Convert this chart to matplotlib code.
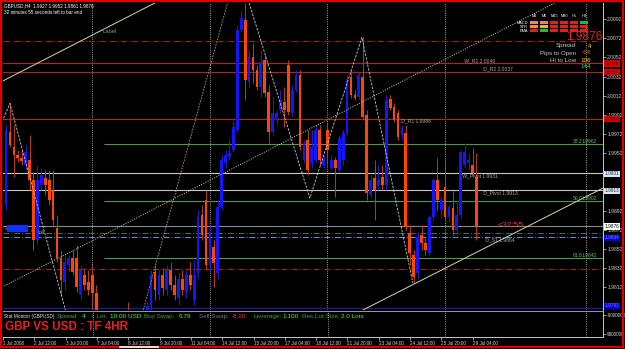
import matplotlib
matplotlib.use("Agg")
import matplotlib.pyplot as plt
from matplotlib.patches import Rectangle
import matplotlib.transforms as mtransforms

plt.rcParams["font.family"] = ["Liberation Sans", "DejaVu Sans"]

# GBPUSD H4 candles, bar 1 = 1 Jul 2008 04:00
OPEN = [1.9906, 1.9898, 1.9974, 1.9958, 1.9950, 1.9947, 1.9940, 1.9945, 1.9924, 1.9861,
        1.9919, 1.9926, 1.9924, 1.9913, 1.9874, 1.9842, 1.9817, 1.9835, 1.9842, 1.9842,
        1.9804, 1.9825, 1.9817, 1.9825, 1.9806, 1.9786, 1.9770, 1.9775, 1.9760, 1.9772,
        1.9758, 1.9752, 1.9775, 1.9765, 1.9778, 1.9762, 1.9780, 1.9784, 1.9792, 1.9828,
        1.9804, 1.9825, 1.9809, 1.9830, 1.9814, 1.9801, 1.9821, 1.9807, 1.9825, 1.9799,
        1.9827, 1.9887, 1.9903, 1.9835, 1.9854, 1.9827, 1.9896, 1.9942, 1.9948, 1.9955,
        1.9976, 2.0081, 2.0091, 2.0026, 2.0052, 2.0039, 2.0021, 2.0049, 2.0016, 1.9974,
        1.9987, 1.9997, 2.0005, 2.0044, 1.9994, 2.0018, 2.0034, 1.9945, 1.9966, 1.9942,
        1.9945, 1.9976, 1.9940, 1.9976, 1.9936, 1.9945, 1.9934, 1.9945, 1.9973, 2.0032,
        2.0013, 2.0011, 2.0032, 1.9992, 1.9908, 1.9926, 1.9919, 1.9927, 1.9919, 2.0009,
        2.0000, 1.9994, 1.9971, 1.9973, 1.9869, 1.9846, 1.9827, 1.9866, 1.9858, 1.9848,
        1.9885, 1.9924, 1.9893, 1.9917, 1.9885, 1.9895, 1.9872, 1.9887, 1.9940, 1.9942,
        1.9940, 1.9927]
HIGH = [1.9913, 1.9981, 2.0004, 1.9981, 1.9955, 1.9955, 1.9960, 1.9971, 1.9932, 1.9940,
        1.9936, 1.9934, 1.9934, 1.9934, 1.9887, 1.9851, 1.9846, 1.9846, 1.9851, 1.9856,
        1.9835, 1.9832, 1.9830, 1.9835, 1.9814, 1.9787, 1.9780, 1.9782, 1.9778, 1.9779,
        1.9770, 1.9780, 1.9796, 1.9782, 1.9784, 1.9783, 1.9786, 1.9797, 1.9830, 1.9835,
        1.9830, 1.9832, 1.9835, 1.9838, 1.9825, 1.9828, 1.9830, 1.9830, 1.9838, 1.9840,
        1.9893, 1.9898, 1.9913, 1.9877, 1.9861, 1.9903, 1.9950, 1.9955, 1.9966, 1.9987,
        2.0086, 2.0102, 2.0109, 2.0060, 2.0067, 2.0044, 2.0060, 2.0055, 2.0023, 2.0011,
        1.9997, 2.0018, 2.0021, 2.0049, 2.0023, 2.0039, 2.0039, 1.9966, 1.9976, 1.9976,
        1.9981, 1.9981, 1.9950, 1.9985, 1.9950, 1.9948, 1.9971, 1.9976, 2.0034, 2.0039,
        2.0018, 2.0037, 2.0073, 1.9997, 1.9929, 1.9945, 1.9940, 1.9940, 2.0013, 2.0013,
        2.0004, 1.9997, 1.9981, 1.9981, 1.9877, 1.9851, 1.9870, 1.9877, 1.9863, 1.9887,
        1.9926, 1.9947, 1.9906, 1.9947, 1.9898, 1.9913, 1.9903, 1.9955, 1.9963, 1.9952,
        1.9957, 1.9952]
LOW = [1.9890, 1.9893, 1.9958, 1.9927, 1.9943, 1.9940, 1.9934, 1.9913, 1.9851, 1.9856,
       1.9913, 1.9908, 1.9898, 1.9877, 1.9838, 1.9804, 1.9809, 1.9828, 1.9825, 1.9807,
       1.9799, 1.9809, 1.9804, 1.9788, 1.9778, 1.9760, 1.9750, 1.9755, 1.9748, 1.9752,
       1.9745, 1.9748, 1.9760, 1.9755, 1.9758, 1.9755, 1.9770, 1.9778, 1.9785, 1.9799,
       1.9799, 1.9804, 1.9804, 1.9809, 1.9799, 1.9793, 1.9804, 1.9801, 1.9809, 1.9793,
       1.9821, 1.9861, 1.9830, 1.9830, 1.9812, 1.9821, 1.9893, 1.9936, 1.9945, 1.9953,
       1.9974, 2.0079, 2.0008, 2.0020, 2.0025, 2.0018, 2.0011, 2.0011, 1.9963, 1.9971,
       1.9981, 1.9994, 1.9979, 1.9992, 1.9991, 2.0016, 1.9955, 1.9942, 1.9929, 1.9936,
       1.9942, 1.9940, 1.9936, 1.9940, 1.9934, 1.9906, 1.9932, 1.9940, 1.9971, 2.0010,
       2.0008, 2.0009, 1.9987, 1.9903, 1.9906, 1.9882, 1.9913, 1.9913, 1.9913, 1.9997,
       1.9985, 1.9966, 1.9966, 1.9872, 1.9835, 1.9816, 1.9821, 1.9851, 1.9846, 1.9846,
       1.9882, 1.9893, 1.9885, 1.9882, 1.9880, 1.9866, 1.9866, 1.9884, 1.9936, 1.9934,
       1.9929, 1.9861]
CLOSE = [1.9892, 1.9976, 1.9960, 1.9950, 1.9947, 1.9944, 1.9953, 1.9924, 1.9861, 1.9924,
         1.9929, 1.9919, 1.9903, 1.9882, 1.9842, 1.9819, 1.9838, 1.9842, 1.9828, 1.9812,
         1.9830, 1.9814, 1.9809, 1.9806, 1.9788, 1.9770, 1.9775, 1.9760, 1.9772, 1.9758,
         1.9752, 1.9775, 1.9765, 1.9778, 1.9762, 1.9780, 1.9784, 1.9792, 1.9825, 1.9809,
         1.9825, 1.9811, 1.9830, 1.9814, 1.9804, 1.9821, 1.9809, 1.9825, 1.9814, 1.9825,
         1.9885, 1.9866, 1.9835, 1.9870, 1.9837, 1.9896, 1.9945, 1.9950, 1.9952, 1.9979,
         2.0081, 2.0093, 2.0028, 2.0052, 2.0039, 2.0021, 2.0047, 2.0015, 1.9974, 1.9994,
         1.9994, 2.0008, 1.9997, 1.9995, 2.0018, 2.0034, 1.9958, 1.9963, 1.9934, 1.9958,
         1.9976, 1.9945, 1.9947, 1.9955, 1.9945, 1.9936, 1.9968, 1.9973, 2.0030, 2.0013,
         2.0010, 2.0034, 1.9990, 1.9910, 1.9924, 1.9913, 1.9924, 1.9919, 2.0008, 1.9999,
         1.9987, 1.9969, 1.9978, 1.9875, 1.9848, 1.9823, 1.9864, 1.9858, 1.9851, 1.9885,
         1.9924, 1.9903, 1.9903, 1.9885, 1.9896, 1.9872, 1.9887, 1.9953, 1.9953, 1.9945,
         1.9931, 1.9876]

TIME_TICKS = [1, 9, 17, 25, 33, 41, 49, 57, 65, 73, 81, 89, 97, 105, 113, 121]
TIME_LABELS = ["1 Jul 2008", "2 Jul 12:00", "3 Jul 20:00", "7 Jul 04:00", "8 Jul 12:00",
               "9 Jul 20:00", "11 Jul 04:00", "14 Jul 12:00", "15 Jul 20:00", "17 Jul 04:00",
               "18 Jul 12:00", "21 Jul 20:00", "23 Jul 04:00", "24 Jul 12:00", "25 Jul 20:00",
               "29 Jul 04:00"]
WEEK_BARS = [24, 54, 84, 114]
MARK_BAR = 150

PRICE_TICKS = [1.9792, 1.9812, 1.9832, 1.9852, 1.9872, 1.9892, 1.9912, 1.9932,
               1.9952, 1.9972, 1.9992, 2.0012, 2.0032, 2.0052, 2.0072, 2.0092]
HIDDEN_TICKS = [1.9792, 1.9912, 1.9932]   # covered by price tags

PIVOT_NAMES = ["W_R1", "D_R2", "D_R1", "W_Pivot", "D_Pivot", "D_S1"]
PIVOT_VALUES = [2.0046, 2.0037, 1.9988, 1.9931, 1.9913, 1.9864]
FIB_NAMES = ["38.2", "50.0", "61.8"]
FIB_VALUES = [1.9962, 1.9902, 1.9842]
FIB_START = 27
RANGE_LEVELS = [2.0069, 1.9831]
GREEN_LEVEL = 1.9869
BID = 1.9876
LOW_LEVEL = 1.9790

TAG_PRICES = [2.0046, 2.0037, 1.9988, 1.9931, 1.9913, 1.9876, 1.9864, 1.9793]

# trend lines as (bar, price) pairs
UPPER_CH = ([0.5, 40.0], [2.0026, 2.0109])
MID_CH = ([0.5, 142.0], [1.9811, 2.0109])
LOWER_CH = ([93.0, 154.5], [1.9788, 1.9916])
PINK_LINE = ([37.0, 58.5], [1.9788, 2.0109])
ZIGZAG_A = ([1.0, 3.0, 17.8], [1.9985, 2.0004, 1.9778])
ZIGZAG_B = ([64.0, 79.5, 92.8, 105.8], [2.0109, 1.9905, 2.0073, 1.9816])

MTF_COLS = ["M1", "M5", "M15", "M30", "H1", "H4"]
MTF_ROWS = ["MACD", "STR", "EMA"]
MTF_COLORS = [["#f08070", "#f08070", "#e02020", "#e02020", "#e02020", "#20c020"],
              ["#ff9020", "#e0c020", "#e02020", "#e02020", "#e02020", "#e02020"],
              ["#e02020", "#20c020", "#e02020", "#e02020", "#e02020", "#e02020"]]

W, H = 625, 349


def box(x0, y0, x1, y1):
    return [x0 / W, 1 - y1 / H, (x1 - x0) / W, (y1 - y0) / H]


fig = plt.figure(figsize=(W / 100, H / 100), dpi=100, facecolor="black")
ax = fig.add_axes(box(3, 3, 603, 310))
sub = fig.add_axes(box(3, 311, 603, 337))
XLIM = (1.2245, 154.29)
for a in (ax, sub):
    a.set_facecolor("black")
    a.set_xlim(*XLIM)
    for s in ("left", "top", "bottom", "right"):
        a.spines[s].set_visible(False)
ax.set_ylim(1.97881, 2.01089)

# candles
bars = list(range(1, len(OPEN) + 1))
up = [c >= o for o, c in zip(OPEN, CLOSE)]
body_col = ["#1414ff" if u else "#ff4500" for u in up]
wick_col = ["#2020c8" if u else "#c0361a" for u in up]
ax.vlines(bars, LOW, HIGH, colors=wick_col, lw=0.7, zorder=3)
ax.bar(bars, [max(abs(c - o), 0.00006) for o, c in zip(OPEN, CLOSE)],
       bottom=[min(o, c) for o, c in zip(OPEN, CLOSE)],
       width=0.7, color=body_col, lw=0, zorder=4)

# horizontal levels
for name, v in zip(PIVOT_NAMES, PIVOT_VALUES):
    if name.startswith(("W_R", "D_R")):
        ax.axhline(v, color="#b22222", lw=0.8, zorder=2)
    elif "Pivot" in name:
        ax.axhline(v, color="#c8c8c8", lw=0.8, zorder=2)
    else:
        ax.axhline(v, color="#6a8fe0", lw=0.7, ls=(0, (6, 2, 1, 2)), zorder=2)
for v in RANGE_LEVELS:
    ax.axhline(v, color="#b22222", lw=0.7, ls=(0, (6, 2, 1, 2)), zorder=2)
ax.axhline(GREEN_LEVEL, color="#3a7a3a", lw=0.7, ls=(0, (6, 2, 1, 2)), zorder=2)
ax.axhline(BID, color="#8a8a8a", lw=0.8, zorder=2)
ax.axhline(LOW_LEVEL, color="#1a1aa8", lw=0.9, zorder=2)
for v in FIB_VALUES:
    ax.hlines(v, FIB_START, XLIM[1], color="#4c9a4c", lw=0.8, zorder=2)

# week separators and marker line
for a in (ax, sub):
    for b in WEEK_BARS + [MARK_BAR]:
        a.axvline(b, color="#d0d0d0", lw=0.6, ls=(0, (1, 1.6)), zorder=1)

# trend lines
ax.plot(*UPPER_CH, color="#d8d8a0", lw=0.7, zorder=5)
ax.plot(*MID_CH, color="#d8d8a0", lw=0.7, ls=(0, (1, 1.5)), zorder=5)
ax.plot(*LOWER_CH, color="#d8d8a0", lw=0.7, zorder=5)
ax.plot(*PINK_LINE, color="#c89090", lw=0.6, ls=(0, (2, 1.5)), zorder=5)
ax.plot(*ZIGZAG_A, color="#c8c8c8", lw=0.6, ls=(0, (3, 1.5)), zorder=5)
ax.plot(*ZIGZAG_B, color="#c8c8c8", lw=0.6, ls=(0, (3, 1.5)), zorder=5)

# level labels
lab = dict(color="#a8a8a8", fontsize=3.6, zorder=6)
pivot_x = [118.5, 123.5, 102.5, 118.0, 123.5, 124.0]
pivot_va = ["bottom", "bottom", "top", "top", "top", "top"]
for name, v, xb, va in zip(PIVOT_NAMES, PIVOT_VALUES, pivot_x, pivot_va):
    ax.text(xb, v, " %s %.4f" % (name, v), va=va, ha="left", **lab)
for name, v in zip(FIB_NAMES, FIB_VALUES):
    ax.text(146.5, v, name, color="#60c060", fontsize=3.6, va="bottom", ha="left", zorder=6)
    ax.text(148.8, v, "%.4f" % v, color="#60c060", fontsize=3.6, va="bottom", ha="left", zorder=6)
ax.text(127.5, BID, "<32:55", color="#ff3030", fontsize=6, va="center", ha="left", zorder=6)
ax.text(26.5, 2.0079, "Label", color="#909090", fontsize=4.2, va="center", ha="left", zorder=6)

# price axis
ax.yaxis.tick_right()
ax.set_yticks(PRICE_TICKS)
ax.set_yticklabels(["" if p in HIDDEN_TICKS else "%.4f" % p for p in PRICE_TICKS])
ax.tick_params(axis="y", colors="#d0d0d0", labelsize=3.6, length=2, width=0.5, pad=1)
ax.tick_params(axis="x", bottom=False, labelbottom=False)

tag_faces = ["#e00000", "#e00000", "#e00000", "#d8e8f0", "#d8e8f0", "#ffffff", "#0000e0", "#0000e0"]
tag_fg = ["#600000", "#600000", "#600000", "#203040", "#203040", "#000000", "#8080ff", "#8080ff"]
trans = mtransforms.blended_transform_factory(ax.transAxes, ax.transData)
for p, fc, tc in zip(TAG_PRICES, tag_faces, tag_fg):
    ax.text(1.003, p - 0.00005, "%.4f" % p, transform=trans, color=tc, fontsize=3.4, va="center",
            ha="left", bbox=dict(facecolor=fc, edgecolor="none", pad=0.5), clip_on=False, zorder=10)

# time axis on the sub window
sub.set_ylim(0, 1)
sub.set_xticks(TIME_TICKS)
sub.set_xticklabels(TIME_LABELS, ha="left")
sub.tick_params(axis="x", colors="#d0d0d0", labelsize=3.3, length=2, width=0.5, pad=1)
sub.yaxis.tick_right()
sub.set_yticks([0.12, 0.86])
sub.set_yticklabels(["9000000", "-9000000"])
sub.tick_params(axis="y", colors="#d0d0d0", labelsize=3.4, length=2, width=0.5, pad=1)
sub.spines["top"].set_visible(True)
sub.spines["top"].set_color("#9a9a9a")
sub.spines["bottom"].set_visible(True)
sub.spines["bottom"].set_color("#c8c8c8")
sub.spines["right"].set_visible(True)
sub.spines["right"].set_color("#c8c8c8")
ax.spines["right"].set_visible(True)
ax.spines["right"].set_color("#c8c8c8")
for a in (ax, sub):
    for s in a.spines.values():
        s.set_linewidth(0.7)

# overlay in pixel coordinates for panel texts
ov = fig.add_axes([0, 0, 1, 1])
ov.set_xlim(0, W)
ov.set_ylim(H, 0)
ov.axis("off")
ov.patch.set_alpha(0)
ov.add_patch(Rectangle((1, 1), 622, 346, fill=False, edgecolor="#e00000", lw=1.6))
ov.plot([120, 158], [347, 347], color="white", lw=1.2)

ov.text(4, 6, "GBPUSD,H4  1.9927 1.9952 1.9861 1.9876", color="white", fontsize=3.3, va="center")
ov.text(4, 12, "32 minutes 55 seconds left to bar end", color="white", fontsize=3.3, va="center")

# trade marker box on the left
ov.add_patch(Rectangle((7, 225), 21, 7, color="#1030ff", lw=0))
ov.text(5, 229, "#", color="#a0a0a0", fontsize=3.2, va="center", ha="left")
ov.text(31, 230, "/", color="#a0a0a0", fontsize=3.6, va="center", ha="left")
ov.text(38, 232, "link", color="#a0a0a0", fontsize=3.4, va="center", ha="left")

for j, c in enumerate(MTF_COLS):
    ov.text(534 + 10 * j, 16, c, color="white", fontsize=2.8, ha="center", va="center")
for r, name in enumerate(MTF_ROWS):
    ov.text(528, 22.5 + 4 * r, name, color="white", fontsize=2.8, ha="right", va="center")
    for j in range(len(MTF_COLS)):
        ov.add_patch(Rectangle((530 + 10 * j, 21 + 4 * r), 8, 3, color=MTF_COLORS[r][j], lw=0))

ov.text(602, 37, "%.4f" % BID, color="#e82020", fontsize=8.6, ha="right", va="center")
info = [("Spread", "4", "#ffd700", 46), ("Pips to Open", "-64", "#ff6a20", 53),
        ("Hi to Low", "106", "#ffd700", 60), ("", "144", "#40e040", 67)]
for name, val, col, y in info:
    if name:
        ov.text(576, y, name, color="#c8c8c8", fontsize=4.5, ha="right", va="center")
    ov.text(591, y, val, color=col, fontsize=4.5, ha="right", va="center")

# stat monitor line
segs = [(4, "Stat Monitor (GBPUSD)", "#e0e0e0", 3.4), (57, "Spread:", "#3aa03a", 4.6),
        (82, "4", "#40ff40", 4.6), (91, "1 Lot:", "#3aa03a", 4.6), (110, "10.00 USD", "#40ff40", 4.6),
        (144, "Buy Swap:", "#3aa03a", 4.6), (179, "6.79", "#40ff40", 4.6),
        (199, "Sell Swap:", "#7a7a7a", 4.6), (232, "-8.20", "#ff3030", 4.6),
        (253, "Leverage:", "#3aa03a", 4.6), (282, "1:100", "#40ff40", 4.6),
        (302, "Rec.Lot Size:", "#3aa03a", 4.6), (341, "2.0 Lots", "#40ff40", 4.6)]
for x, t, c, fs in segs:
    ov.text(x, 316.5, t, color=c, fontsize=fs, va="center", ha="left")
ov.text(5, 327.5, "GBP VS USD : TF 4HR", color="#e82020", fontsize=8.4, fontweight="bold",
        va="center", ha="left")

fig.savefig("out.png", dpi=100, facecolor="black")
